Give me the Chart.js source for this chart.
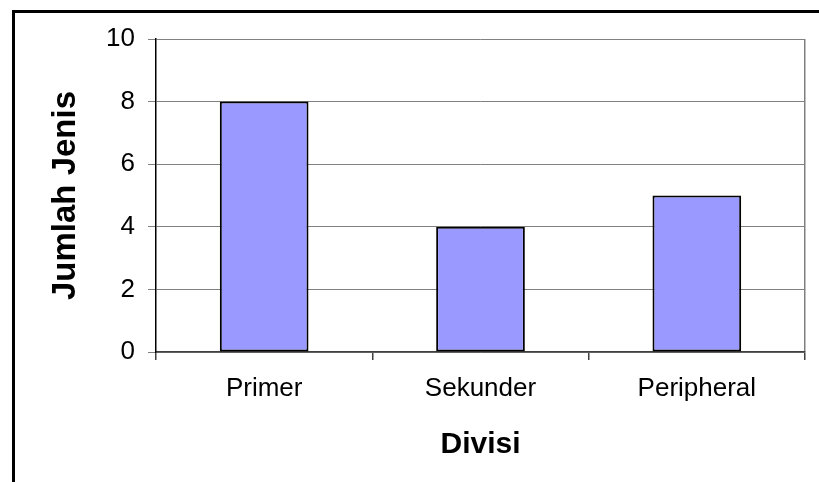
<!DOCTYPE html>
<html>
<head>
<meta charset="utf-8">
<script src="https://cdn.jsdelivr.net/npm/chart.js@4"></script>
<style>
  html, body { margin: 0; padding: 0; background: #fff; overflow: hidden; width: 819px; height: 482px; }
  #frame { position: absolute; left: 12px; top: 10px; width: 900px; height: 600px; border: 3px solid #000; box-sizing: border-box; }
  #c { position: absolute; left: 0; top: 0; }
</style>
</head>
<body>
<div id="frame"></div>
<canvas id="c" width="819" height="482"></canvas>
<script>
const categories = ['Primer', 'Sekunder', 'Peripheral'];
const values = [8, 4, 5];
const yTicks = [0, 2, 4, 6, 8, 10];
const xTitle = 'Divisi';
const yTitle = 'Jumlah Jenis';

const FONT = '"Liberation Sans", Arial, sans-serif';

new Chart(document.getElementById('c'), {
  type: 'bar',
  data: {
    labels: categories,
    datasets: [{
      data: values,
      backgroundColor: '#9999FF',
      borderColor: '#000000',
      borderWidth: 2,
      borderSkipped: false,
      categoryPercentage: 1,
      barPercentage: 0.41
    }]
  },
  options: {
    responsive: false,
    animation: false,
    devicePixelRatio: 1,
    layout: { padding: { left: 0, top: 39, right: 14, bottom: 0 } },
    plugins: { legend: { display: false }, tooltip: { enabled: false } },
    scales: {
      x: {
        grid: {
          offset: true,
          drawOnChartArea: true,
          color: (c) => c.type === 'tick' ? 'rgba(0,0,0,0)' : '#808080',
          lineWidth: 1.5,
          tickLength: 8,
          tickColor: '#404040'
        },
        border: { color: '#404040', width: 1.5 },
        ticks: { color: '#000', font: { family: FONT, size: 26 }, padding: 13, maxRotation: 0 },
        title: { display: true, text: xTitle, color: '#000', font: { family: FONT, size: 30, weight: 'bold' }, padding: { top: 0, bottom: 19 } },
        afterFit: (s) => { s.height = 130; }
      },
      y: {
        min: 0,
        max: 10,
        afterBuildTicks: (s) => { s.ticks = yTicks.map(v => ({ value: v })); },
        grid: { color: '#808080', lineWidth: 1, tickLength: 8, tickColor: '#808080' },
        border: { color: '#000', width: 1.5 },
        ticks: { color: '#000', font: { family: FONT, size: 26 }, padding: 13 },
        title: { display: true, text: yTitle, color: '#000', font: { family: FONT, size: 33, weight: 'bold' }, padding: { top: 46, bottom: 0 } },
        afterFit: (s) => { s.width = 156; }
      }
    }
  }
});
</script>
</body>
</html>
